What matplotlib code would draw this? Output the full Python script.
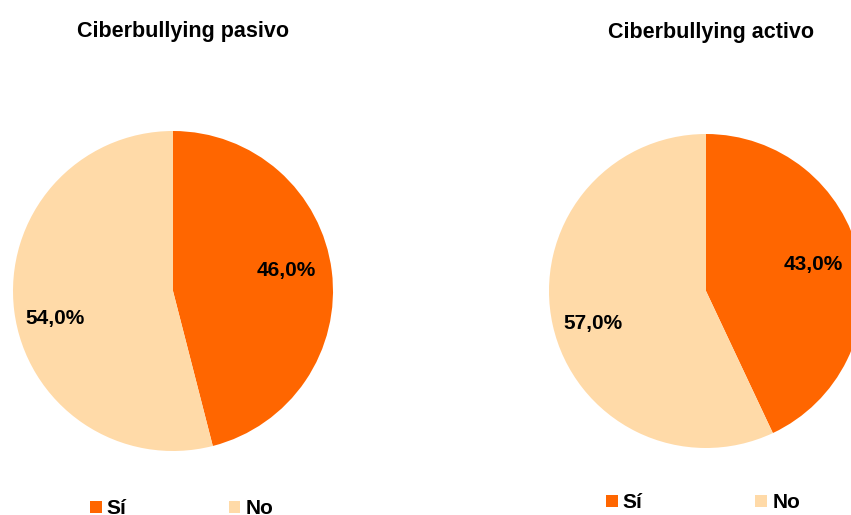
import matplotlib.pyplot as plt
from matplotlib.patches import Patch

plt.rcParams['font.family'] = ['Liberation Sans', 'DejaVu Sans']

labels = ['Sí', 'No']
pasivo = [46.0, 54.0]
activo = [43.0, 57.0]
colors = ['#FF6600', '#FFDAA8']

# where the percentage labels sit, in units of the pie radius
pos_pasivo = [(0.71, 0.13), (-0.74, -0.17)]
pos_activo = [(0.68, 0.17), (-0.72, -0.21)]

W, H = 851, 515
fig = plt.figure(figsize=(W / 100, H / 100), dpi=100)


def pie_axes(cx, cy, r):
    # pixel centre/radius -> figure fraction rectangle
    return fig.add_axes([(cx - r) / W, (H - cy - r) / H, 2 * r / W, 2 * r / H])


def fmt(p):
    return ('%.1f%%' % p).replace('.', ',')


def draw(ax, vals, pos, title, tx, ty, leg_x, leg_y, colsp):
    wedges, _, autotexts = ax.pie(vals, colors=colors, startangle=90, counterclock=False,
                                  autopct=fmt, wedgeprops=dict(linewidth=0))
    for t, p in zip(autotexts, pos):
        t.set_position(p)
        t.set_fontsize(15)
        t.set_fontweight('bold')
    ax.set_xlim(-1, 1)
    ax.set_ylim(-1, 1)
    ax.set_aspect('equal')
    fig.text(tx / W, 1 - ty / H, title, ha='center', va='baseline',
             fontsize=15.5, fontweight='bold')
    handles = [Patch(facecolor=c, edgecolor='none') for c in colors]
    fig.legend(handles, labels, loc='center left', ncol=2, frameon=False,
               bbox_to_anchor=(leg_x / W, 1 - leg_y / H),
               prop=dict(size=15, weight='bold'), handlelength=0.56, handleheight=0.56,
               handletextpad=0.25, columnspacing=colsp, borderpad=0, borderaxespad=0)


ax1 = pie_axes(173, 291, 160)
draw(ax1, pasivo, pos_pasivo, 'Ciberbullying pasivo', 183, 37, 90, 509, 4.9)

ax2 = pie_axes(706, 291, 157)
draw(ax2, activo, pos_activo, 'Ciberbullying activo', 711, 38, 606, 503, 5.4)

fig.savefig('out.png', dpi=100)
